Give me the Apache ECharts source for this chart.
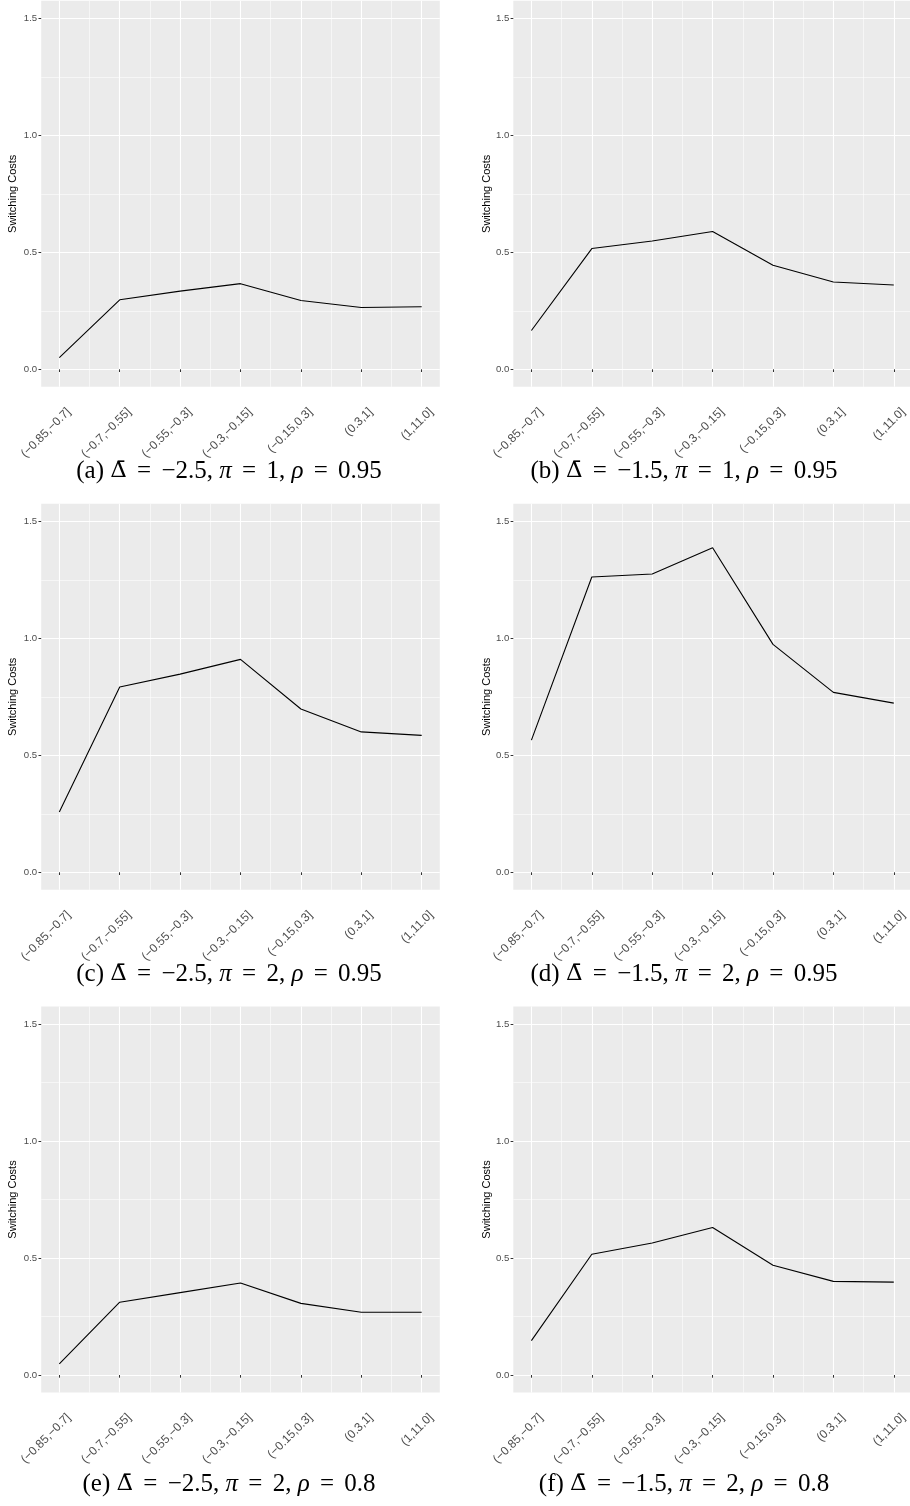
<!DOCTYPE html>
<html>
<head>
<meta charset="utf-8">
<script src="https://cdn.jsdelivr.net/npm/echarts@6/dist/echarts.min.js"></script>
<style>
html,body{margin:0;padding:0;background:#fff;}
#chart{width:910px;height:1506px;}
</style>
</head>
<body>
<div id="chart"></div>
<script>
// ---------- data ----------
const categories = ['(\u22120.85,\u22120.7]', '(\u22120.7,\u22120.55]', '(\u22120.55,\u22120.3]', '(\u22120.3,\u22120.15]', '(\u22120.15,0.3]', '(0.3,1]', '(1,11.0]'];
const xBreaks = [1, 2, 3, 4, 5, 6, 7];
const xMinorBreaks = [1.5, 2.5, 3.5, 4.5, 5.5, 6.5];
const yTicks = [0, 0.5, 1.0, 1.5];
const yMinorTicks = [0.25, 0.75, 1.25];
const seriesA = [0.050, 0.297, 0.334, 0.366, 0.294, 0.264, 0.267];
const seriesB = [0.166, 0.516, 0.548, 0.589, 0.445, 0.373, 0.360];
const seriesC = [0.258, 0.792, 0.847, 0.910, 0.698, 0.600, 0.585];
const seriesD = [0.565, 1.262, 1.275, 1.387, 0.974, 0.769, 0.723];
const seriesE = [0.048, 0.311, 0.352, 0.393, 0.306, 0.268, 0.268];
const seriesF = [0.147, 0.516, 0.564, 0.630, 0.469, 0.400, 0.397];
const panelLetters = ['a', 'b', 'c', 'd', 'e', 'f'];
const deltaBar = ['\u22122.5', '\u22121.5', '\u22122.5', '\u22121.5', '\u22122.5', '\u22121.5'];
const piVals = ['1', '1', '2', '2', '2', '2'];
const rhoVals = ['0.95', '0.95', '0.95', '0.95', '0.8', '0.8'];
const yTitle = 'Switching Costs';

// ---------- layout ----------
const allSeries = [seriesA, seriesB, seriesC, seriesD, seriesE, seriesF];
const colLeft = [41.2, 513.3];
const nameGaps = [22.5, 20.5];
const rowTop = [0.75, 503.75, 1006.45];
const capCenterX = [229, 684];
const capTop = [459, 962, 1472];
const PW = 398.6, PH = 386.1;
const xRange = xBreaks[xBreaks.length - 1] - xBreaks[0];
const xMin = xBreaks[0] - 0.05 * xRange, xMax = xBreaks[xBreaks.length - 1] + 0.05 * xRange;
const yRange = yTicks[yTicks.length - 1] - yTicks[0];
const yMin = yTicks[0] - 0.05 * yRange, yMax = yTicks[yTicks.length - 1] + 0.05 * yRange;

const sans = 'Liberation Sans, Arial, sans-serif';
const serif = 'Liberation Serif, serif';
const grids = [], xAxes = [], yAxes = [], series = [], graphics = [];

allSeries.forEach((vals, i) => {
  const col = i % 2, row = Math.floor(i / 2);
  grids.push({
    left: colLeft[col], top: rowTop[row], width: PW, height: PH,
    show: true, backgroundColor: '#EBEBEB', borderWidth: 0,
    containLabel: false, outerBoundsMode: 'none'
  });
  // major x
  xAxes.push({
    gridIndex: i, type: 'value', min: xMin, max: xMax,
    axisLine: { show: false },
    axisTick: { show: true, length: 2.7, customValues: xBreaks, lineStyle: { color: '#333333', width: 1 } },
    axisLabel: {
      show: true, customValues: xBreaks, rotate: 45, margin: 13.6,
      showMinLabel: true, showMaxLabel: true, hideOverlap: false,
      formatter: v => categories[Math.round(v) - 1],
      color: '#4D4D4D', fontSize: 12, fontFamily: sans,
      verticalAlign: 'top', lineHeight: 27
    },
    splitLine: { show: true, lineStyle: { color: '#FFFFFF', width: 1.1 } }
  });
  // minor x
  xAxes.push({
    gridIndex: i, type: 'value', min: xMin, max: xMax,
    axisLine: { show: false },
    axisTick: { show: false, customValues: xMinorBreaks },
    axisLabel: { show: false, customValues: xMinorBreaks },
    splitLine: { show: true, lineStyle: { color: '#FFFFFF', width: 0.55 } }
  });
  // major y
  yAxes.push({
    gridIndex: i, type: 'value', min: yMin, max: yMax,
    name: yTitle, nameLocation: 'middle', nameGap: nameGaps[col],
    nameTextStyle: { color: '#000000', fontSize: 11, fontFamily: sans },
    axisLine: { show: false },
    axisTick: { show: true, length: 2.7, customValues: yTicks, lineStyle: { color: '#333333', width: 1 } },
    axisLabel: {
      show: true, customValues: yTicks, margin: 4,
      showMinLabel: true, showMaxLabel: true,
      formatter: v => v.toFixed(1),
      color: '#4D4D4D', fontSize: 9.6, fontFamily: sans
    },
    splitLine: { show: true, lineStyle: { color: '#FFFFFF', width: 1.1 } }
  });
  // minor y
  yAxes.push({
    gridIndex: i, type: 'value', min: yMin, max: yMax,
    axisLine: { show: false },
    axisTick: { show: false, customValues: yMinorTicks },
    axisLabel: { show: false, customValues: yMinorTicks },
    splitLine: { show: true, lineStyle: { color: '#FFFFFF', width: 0.55 } }
  });
  series.push({
    type: 'line', xAxisIndex: 2 * i, yAxisIndex: 2 * i,
    data: vals.map((v, k) => [xBreaks[k], v]),
    showSymbol: false, symbol: 'none', silent: true,
    lineStyle: { color: '#000000', width: 1.1 },
    z: 5
  });
  graphics.push({
    type: 'text', x: capCenterX[col], y: capTop[row], silent: true,
    style: {
      text: '{r|(' + panelLetters[i] + ') }{d|\u0394\u0304}{r| }{e|=}{r| ' + deltaBar[i] + ', }{i|\u03c0}{r| }{e|=}{r| ' + piVals[i] + ', }{i|\u03c1}{r| }{e|=}{r| ' + rhoVals[i] + '}',
      align: 'center', verticalAlign: 'top',
      rich: {
        r: { fontFamily: serif, fontSize: 25, color: '#000' },
        d: { fontFamily: 'DejaVu Serif, serif', fontSize: 23, color: '#000' },
        i: { fontFamily: serif, fontSize: 25, fontStyle: 'italic', color: '#000' },
        e: { fontFamily: serif, fontSize: 25, color: '#000', padding: [0, 4, 0, 4] }
      }
    }
  });
});

const chart = echarts.init(document.getElementById('chart'), null, { renderer: 'canvas' });
chart.setOption({
  animation: false,
  backgroundColor: '#FFFFFF',
  grid: grids, xAxis: xAxes, yAxis: yAxes, series: series,
  graphic: graphics
});
</script>
</body>
</html>
